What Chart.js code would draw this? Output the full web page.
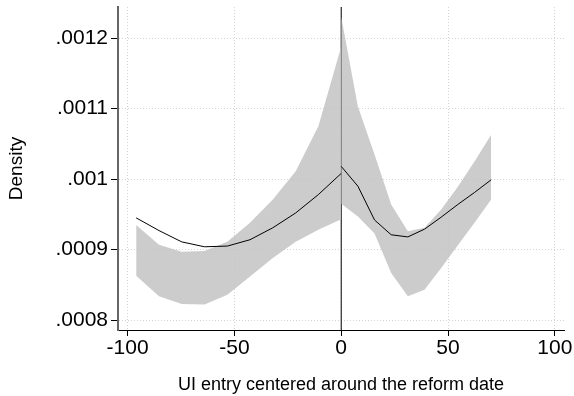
<!DOCTYPE html>
<html>
<head>
<meta charset="utf-8">
<script src="https://cdn.jsdelivr.net/npm/chart.js@4"></script>
<style>
  body { margin: 0; background: #fff; }
  #wrap { width: 574px; height: 396px; }
</style>
</head>
<body>
<div id="wrap"><canvas id="myChart"></canvas></div>
<script>
// density before the reform (left of 0) and after it (right of 0)
const leftX = [-96, -85.3, -74.7, -64, -53.3, -42.7, -32, -21.3, -10.7, 0];
const leftMean = [0.000945, 0.000927, 0.000911, 0.000904, 0.000905, 0.000914, 0.000931, 0.000952, 0.000978, 0.001008];
const leftUpper = [0.000935, 0.000907, 0.000897, 0.000898, 0.000911, 0.000938, 0.000971, 0.001011, 0.001075, 0.001188];
const leftLower = [0.000863, 0.000834, 0.000823, 0.000822, 0.000836, 0.000862, 0.000888, 0.000911, 0.000928, 0.000943];

const rightX = [0, 7.8, 15.6, 23.4, 31.2, 39, 46.8, 54.6, 62.4, 70.2];
const rightMean = [0.001018, 0.00099, 0.000942, 0.000921, 0.000918, 0.000929, 0.000946, 0.000964, 0.000981, 0.000999];
const rightUpper = [0.00123, 0.001103, 0.001035, 0.000964, 0.000926, 0.000931, 0.000957, 0.000989, 0.001025, 0.001063];
const rightLower = [0.000965, 0.000947, 0.000923, 0.000867, 0.000834, 0.000843, 0.000874, 0.000906, 0.000938, 0.000971];

const reformX = 0;
const xTicks = [-100, -50, 0, 50, 100];
const yTicks = [0.0008, 0.0009, 0.001, 0.0011, 0.0012];
const yTickLabels = [".0008", ".0009", ".001", ".0011", ".0012"];

const xMin = -104.5, xMax = 104.3;
const yMin = 0.000786, yMax = 0.001244;

function pts(xs, ys) {
    return xs.map((x, i) => ({x: x, y: ys[i]}));
}

const bandColor = "rgba(195,195,195,0.85)";
const font = "'Liberation Sans', Arial, sans-serif";

new Chart(document.getElementById("myChart"), {
    type: "line",
    data: {
        datasets: [
            {data: pts(leftX, leftMean), borderColor: "#000", borderWidth: 1, pointRadius: 0, fill: false},
            {data: pts(rightX, rightMean), borderColor: "#000", borderWidth: 1, pointRadius: 0, fill: false},
            {data: pts(leftX, leftUpper), borderWidth: 0, borderColor: bandColor, pointRadius: 0, fill: false},
            {data: pts(leftX, leftLower), borderWidth: 0, borderColor: bandColor, backgroundColor: bandColor, pointRadius: 0, fill: "-1"},
            {data: pts(rightX, rightUpper), borderWidth: 0, borderColor: bandColor, pointRadius: 0, fill: false},
            {data: pts(rightX, rightLower), borderWidth: 0, borderColor: bandColor, backgroundColor: bandColor, pointRadius: 0, fill: "-1"},
            {data: [{x: reformX, y: yMin}, {x: reformX, y: yMax}], borderColor: "#000", borderWidth: 1, pointRadius: 0, fill: false}
        ]
    },
    options: {
        responsive: true,
        maintainAspectRatio: false,
        animation: false,
        layout: {padding: {top: 7, right: 10, left: 0, bottom: 0}},
        plugins: {legend: {display: false}, tooltip: {enabled: false}},
        scales: {
            x: {
                type: "linear",
                min: xMin,
                max: xMax,
                afterBuildTicks: (axis) => { axis.ticks = xTicks.map(v => ({value: v})); },
                afterFit: (axis) => { axis.height = 66; },
                grid: {color: "#d4d4d4", tickColor: "#000", tickLength: 6, tickWidth: 1},
                border: {display: true, color: "#000", width: 1, dash: [1, 2]},
                ticks: {color: "#000", font: {family: font, size: 21}, padding: 0, maxRotation: 0,
                    callback: (v) => String(v)},
                title: {display: true, text: "UI entry centered around the reform date", color: "#000",
                    font: {family: font, size: 18}, padding: {top: 0, bottom: 0}}
            },
            y: {
                min: yMin,
                max: yMax,
                afterBuildTicks: (axis) => { axis.ticks = yTicks.map(v => ({value: v})); },
                afterFit: (axis) => {
                    axis.width = 118;
                    axis.paddingTop = 0;
                    axis.paddingBottom = 0;
                },
                grid: {color: "#d4d4d4", tickColor: "#000", tickLength: 7, tickWidth: 1},
                border: {display: true, color: "#666", width: 2, dash: [1, 2]},
                ticks: {color: "#000", font: {family: font, size: 21}, padding: 3,
                    callback: (v, i) => yTickLabels[i]},
                title: {display: true, text: "Density", color: "#000",
                    font: {family: font, size: 19}, padding: {top: 5, bottom: 0}}
            }
        }
    }
});
</script>
</body>
</html>
